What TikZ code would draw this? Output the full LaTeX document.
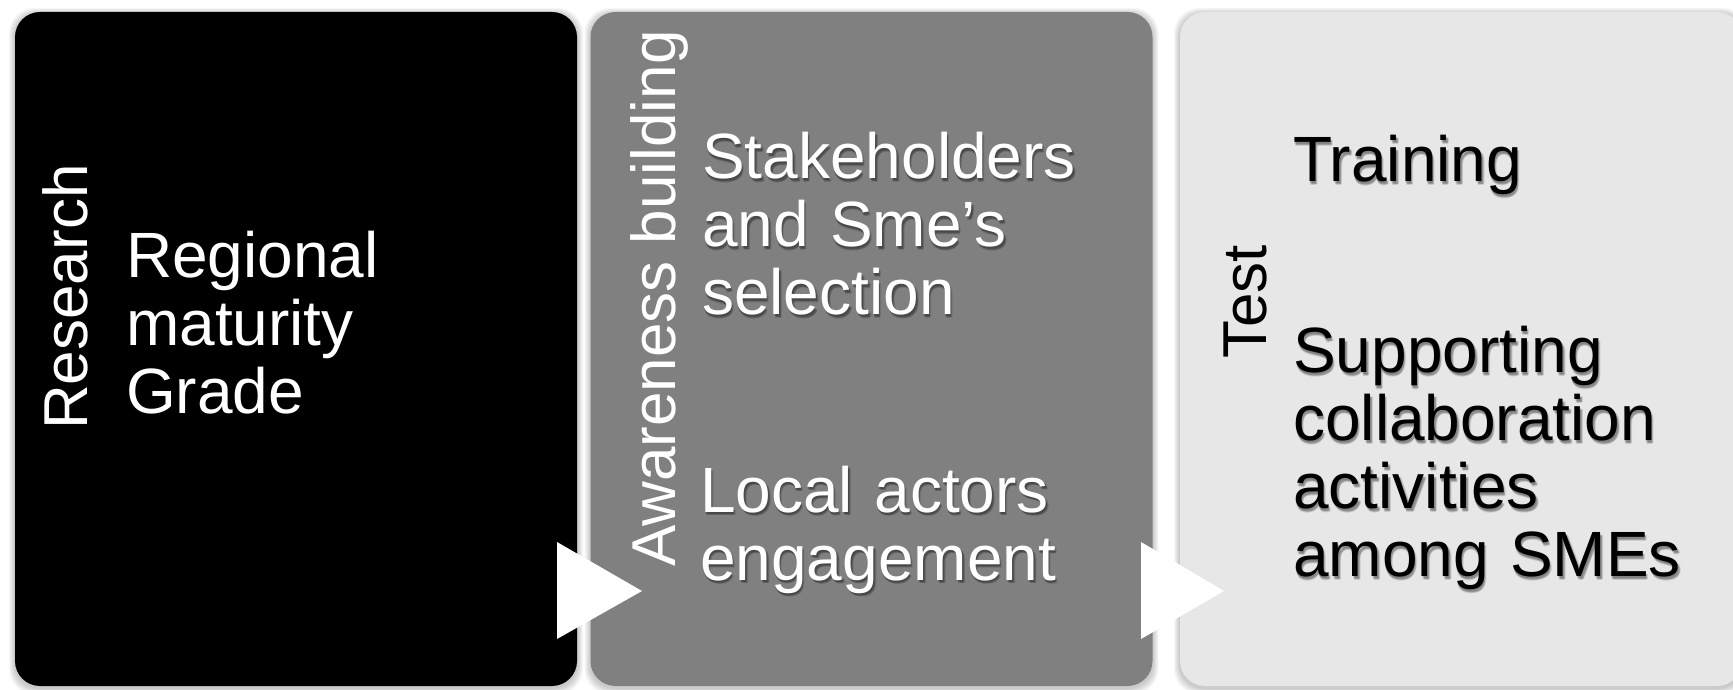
\documentclass[tikz,border=0pt]{standalone}
\usepackage{fontspec}
\setmainfont{Liberation Sans}
\usetikzlibrary{calc}
\definecolor{midgray}{RGB}{128,128,128}
\definecolor{lightbox}{RGB}{231,231,231}
\tikzset{
  stagebox/.style={rounded corners=25pt, minimum width=562pt, minimum height=674pt, inner sep=0pt, draw=none},
  bodytext/.style={font=\fontsize{64}{68}\selectfont, inner sep=0pt, anchor=base west, text width=520pt, align=left},
  sidelabel/.style={font=\fontsize{62}{68}\selectfont, inner sep=0pt, anchor=base west, rotate=90},
  arrowtri/.style={fill=white, draw=none},
  boxshadow/.style={fill=black, opacity=0.035, rounded corners=25pt},
}
\newcommand{\shtext}[4]{%
  \foreach \dx/\dy [count=\k] in {1.5/-2.5, 0.5/-2, 2.5/-3, 1.5/-3.5}
    \node[bodytext, text=black, text opacity=0.13] (#1sh\k) at ($(#2)+(\dx,\dy)$) {#4};
  \node[bodytext, text=#3] (#1) at (#2) {#4};
}
\begin{document}
\begin{tikzpicture}[x=1pt,y=1pt]
\useasboundingbox (0,0) rectangle (1733,689);
\clip (0,0) rectangle (1733,689);
\fill[white] (0,0) rectangle (1733,689);
% box shadows
\foreach \cx in {296,871.5,1461}{
  \foreach \i in {1,...,6}
    \fill[boxshadow] ({\cx-281-\i},{3-\i-2}) rectangle ({\cx+281+\i},{677+\i-2});
}
% boxes
\node[stagebox, fill=black] (b1) at (296,340) {};
\node[stagebox, fill=midgray] (b2) at (871.5,340) {};
\node[stagebox, fill=lightbox] (b3) at (1461,340) {};
% arrows
\fill[arrowtri] (557,147) -- (557,50) -- (642,98) -- cycle;
\fill[arrowtri] (1141,147) -- (1141,50) -- (1224,98) -- cycle;
% labels
\node[sidelabel, text=white] (l1) at (87,259) {Research};
\node[sidelabel, text=white] (l2) at (675,122) {Awareness building};
\node[sidelabel, text=black] (l3) at (1266,330) {Test};
% body texts
\shtext{t1}{126,411}{white}{Regional\\maturity\\Grade}
\shtext{t2}{702,510}{white}{Stakeholders\\and Sme’s\\selection}
\shtext{t3}{700,177}{white}{Local actors\\engagement}
\shtext{t4}{1293,507}{black}{Training}
\shtext{t5}{1293,316}{black}{Supporting\\collaboration\\activities\\among SMEs}
\end{tikzpicture}
\end{document}
